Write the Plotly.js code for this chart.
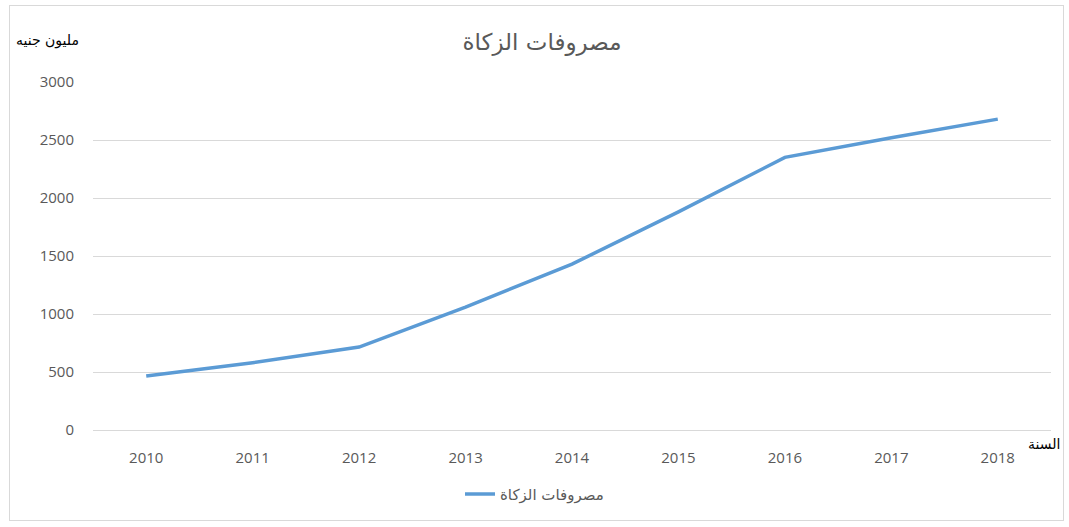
<!DOCTYPE html>
<html>
<head>
<meta charset="utf-8">
<script src="https://cdn.plot.ly/plotly-3.0.1.min.js"></script>
<style>
html,body{margin:0;padding:0;background:#fff;}
#chart{width:1069px;height:527px;}
#frame{position:absolute;left:9px;top:5px;width:1055px;height:516px;border:1px solid #d9d9d9;pointer-events:none;box-sizing:border-box;}
</style>
</head>
<body>
<div id="chart"></div>
<div id="frame"></div>
<script>
const years = ['2010','2011','2012','2013','2014','2015','2016','2017','2018'];
const zakatSpending = [465, 580, 715, 1060, 1430, 1880, 2350, 2520, 2680];
const seriesName = 'مصروفات الزكاة';
const chartTitle = 'مصروفات الزكاة';
const yUnitLabel = 'مليون جنيه';
const xLabel = 'السنة';

const arFont = 'DejaVu Sans, sans-serif';
const numFont = 'Open Sans, Liberation Sans, sans-serif';

Plotly.newPlot('chart', [{
  x: years,
  y: zakatSpending,
  type: 'scatter',
  mode: 'lines',
  name: seriesName,
  line: {color: '#5B9BD5', width: 3.5}
}], {
  width: 1069, height: 527,
  margin: {l: 93, r: 18, t: 82, b: 97},
  paper_bgcolor: '#fff', plot_bgcolor: '#fff',
  title: {text: chartTitle, x: 0.507, xanchor: 'center', y: 0.92, yanchor: 'middle', yref: 'container',
          font: {family: arFont, size: 23, color: '#595959'}},
  xaxis: {type: 'category', range: [-0.5, 8.5], showgrid: false, showline: true, linecolor: '#d9d9d9', linewidth: 1,
          ticks: '', ticklabelstandoff: 14, zeroline: false,
          tickfont: {family: numFont, size: 15, color: '#595959'}},
  yaxis: {range: [0, 3000], dtick: 500, showgrid: true, gridcolor: '#d9d9d9', zeroline: false,
          showline: false, ticks: '', ticklabelstandoff: 18,
          tickfont: {family: numFont, size: 15, color: '#595959'}},
  showlegend: true,
  legend: {orientation: 'h', x: 0.5, xanchor: 'center', xref: 'container', y: 0.062, yanchor: 'middle', yref: 'container',
           font: {family: arFont, size: 15, color: '#595959'}},
  annotations: [
    {text: yUnitLabel, xref: 'paper', yref: 'paper', x: -0.082, y: 1.12, xanchor: 'left', yanchor: 'middle',
     showarrow: false, font: {family: arFont, size: 14, color: '#000'}},
    {text: xLabel, xref: 'paper', yref: 'paper', x: 1.0115, y: -0.04, xanchor: 'right', yanchor: 'middle',
     showarrow: false, font: {family: arFont, size: 14, color: '#000'}}
  ]
}, {displayModeBar: false, staticPlot: true});
</script>
</body>
</html>
